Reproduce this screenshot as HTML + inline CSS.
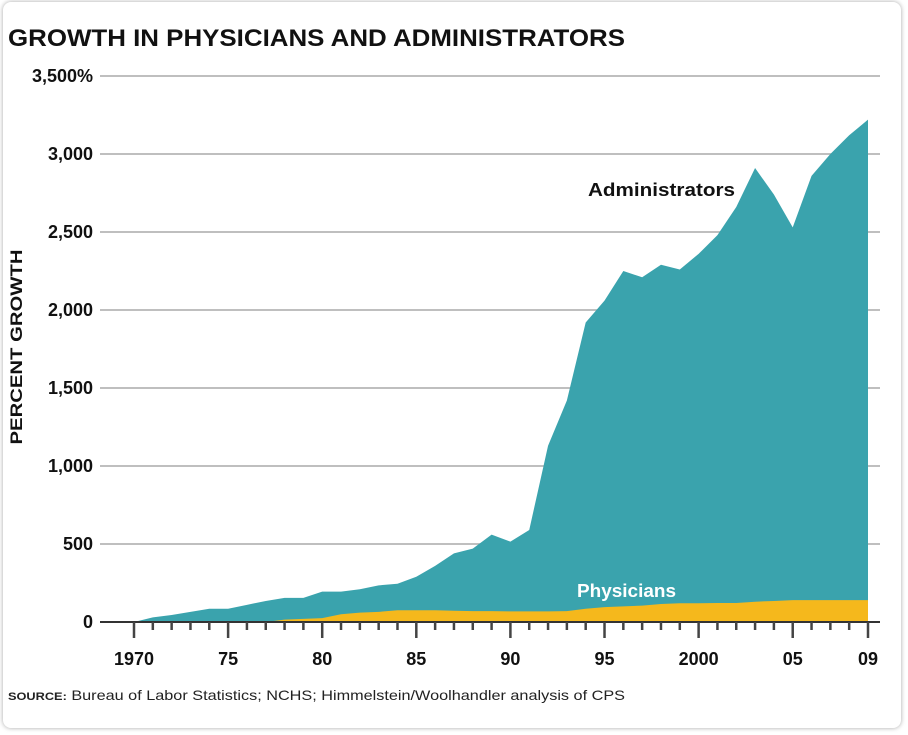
<!DOCTYPE html>
<html><head><meta charset="utf-8"><style>
html,body{margin:0;padding:0;background:#fff;}
body{width:908px;height:735px;overflow:hidden;font-family:"Liberation Sans",sans-serif;}
#frame{position:absolute;left:3px;top:2px;width:898px;height:726px;border-radius:8px;box-shadow:0 0 5px rgba(0,0,0,0.35);background:#fff;}
</style></head><body>
<div id="frame"></div>
<svg id="chart" width="908" height="735" style="position:absolute;left:0;top:0">
<text x="8" y="46" font-size="24" font-weight="bold" fill="#111" textLength="617" lengthAdjust="spacingAndGlyphs">GROWTH IN PHYSICIANS AND ADMINISTRATORS</text>
<text transform="translate(22,347) rotate(-90)" text-anchor="middle" font-size="17" font-weight="bold" fill="#111" textLength="195" lengthAdjust="spacingAndGlyphs">PERCENT GROWTH</text>
<g id="grid"></g><g id="areas"></g><g id="axes"></g>
<text x="588" y="196" font-size="18" font-weight="bold" fill="#111" textLength="147" lengthAdjust="spacingAndGlyphs">Administrators</text>
<text x="577" y="597" font-size="18" font-weight="bold" fill="#fff" textLength="99" lengthAdjust="spacingAndGlyphs">Physicians</text>
<text x="8" y="700" font-size="14" fill="#222" textLength="617" lengthAdjust="spacingAndGlyphs"><tspan font-weight="bold" font-size="11">SOURCE:</tspan> Bureau of Labor Statistics; NCHS; Himmelstein/Woolhandler analysis of CPS</text>
</svg>
<script>
const years=[1970,1971,1972,1973,1974,1975,1976,1977,1978,1979,1980,1981,1982,1983,1984,1985,1986,1987,1988,1989,1990,1991,1992,1993,1994,1995,1996,1997,1998,1999,2000,2001,2002,2003,2004,2005,2006,2007,2008,2009];
const administrators=[0,30,45,65,85,85,110,135,155,155,195,195,210,235,245,290,360,440,470,560,515,590,1130,1420,1920,2060,2250,2210,2290,2260,2360,2480,2660,2910,2740,2530,2860,3000,3120,3220];
const physicians=[0,0,0,0,0,0,0,0,15,20,25,50,60,65,75,75,75,72,70,70,68,68,68,70,85,95,100,105,115,120,120,122,122,130,135,140,140,140,140,140];
const yTicks=[0,500,1000,1500,2000,2500,3000,3500];
const yTickLabels=["0","500","1,000","1,500","2,000","2,500","3,000","3,500%"];
const xMajor=[1970,1975,1980,1985,1990,1995,2000,2005,2009];
const xLabels=["1970","75","80","85","90","95","2000","05","09"];
const NS="http://www.w3.org/2000/svg";
const x=v=>134+(v-1970)*(868-134)/39;
const y=v=>622-v*(622-76)/3500;
function mk(tag,attrs,parent){const e=document.createElementNS(NS,tag);for(const k in attrs)e.setAttribute(k,attrs[k]);document.getElementById(parent).appendChild(e);return e;}
yTicks.forEach((t,i)=>{
 if(t>0){const l=mk('line',{x1:100,x2:880,y1:y(t),y2:y(t),stroke:'#aaa','stroke-width':1.5},'grid');
 
 }
 const tx=mk('text',{x:93,y:y(t)+6,'text-anchor':'end','font-size':18,'font-weight':'bold',fill:'#111'},'grid');
 tx.textContent=yTickLabels[i];
 
 
});
function area(vals,color,name){
 let d='M'+x(years[0])+','+y(0);
 years.forEach((yr,i)=>{d+=' L'+x(yr)+','+y(vals[i]);});
 d+=' L'+x(years[years.length-1])+','+y(0)+' Z';
 const p=mk('path',{d:d,fill:color},'areas');
 
 
}
area(administrators,'#3aa3ad','administrators-area');
area(physicians,'#f5b81c','physicians-area');
const ax=mk('line',{x1:100,x2:880,y1:y(0),y2:y(0),stroke:'#333','stroke-width':2},'axes');


years.forEach(yr=>{
 const major=xMajor.includes(yr);
 const t=mk('line',{x1:x(yr),x2:x(yr),y1:y(0),y2:y(0)+(major?16:8),stroke:'#444','stroke-width':2.5},'axes');
 
 
});
xMajor.forEach((yr,i)=>{
 const tx=mk('text',{x:x(yr),y:665,'text-anchor':'middle','font-size':18,'font-weight':'bold',fill:'#111'},'axes');
 tx.textContent=xLabels[i];
 
 
});
</script>
</body></html>
